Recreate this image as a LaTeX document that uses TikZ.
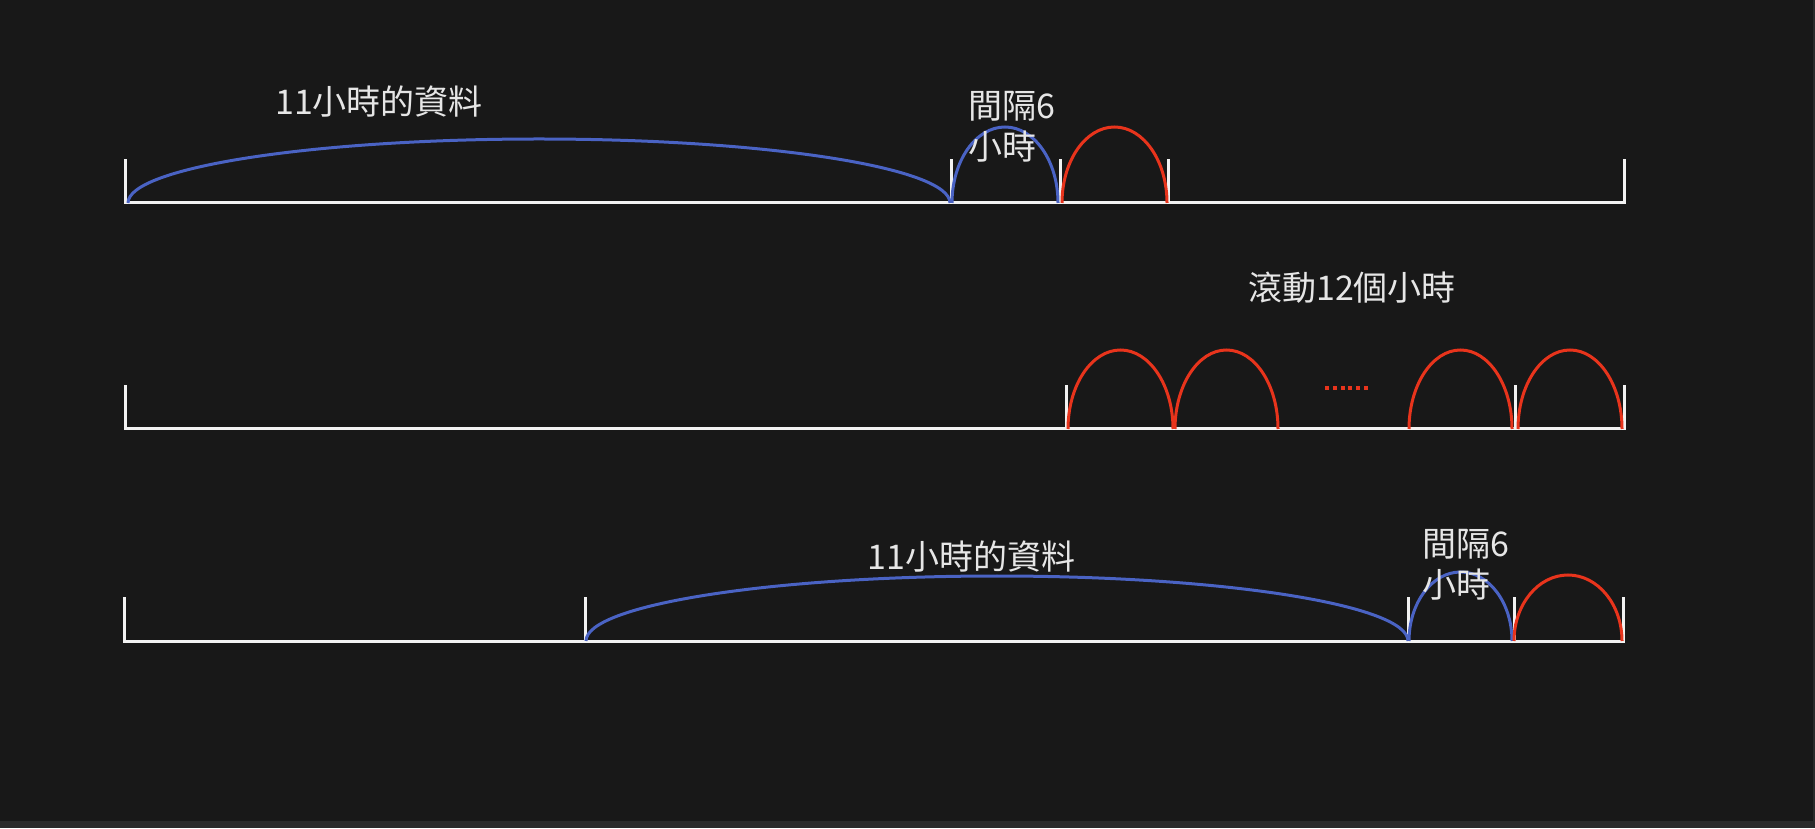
\documentclass[tikz,border=0pt]{standalone}
\usepackage{fontspec}
\setmainfont{Noto Sans CJK TC}
\usetikzlibrary{calc}
\definecolor{Board}{HTML}{181818}
\definecolor{Rim}{HTML}{2A2A2A}
\definecolor{Chalk}{HTML}{F2F2F2}
\definecolor{Label}{HTML}{E6E6E6}
\definecolor{Cobalt}{HTML}{4A63C4}
\definecolor{Vermilion}{HTML}{E8341C}
\tikzset{
  axisline/.style={draw=Chalk, line width=3pt, line cap=rect},
  tickmark/.style={draw=Chalk, line width=3pt},
  hump/.style={to path={let \p1=(\tikztostart), \p2=(\tikztotarget) in
    arc[start angle=180, end angle=0, x radius={(\x2-\x1)/2}, y radius=#1pt]}},
  datahump/.style={draw=Cobalt, line width=3pt},
  nexthump/.style={draw=Vermilion, line width=3pt},
  note/.style={text=Label, font=\fontsize{34}{41}\selectfont, inner sep=0pt, align=left}
}

\begin{document}
\begin{tikzpicture}[x=1pt,y=1pt]
  \fill[Board] (0,0) rectangle (1815,828);
  \fill[Rim] (0,0) rectangle (1815,7);
  \fill[Rim] (1813,7) rectangle (1815,828);

  % first row: 11 hours of data, 6 hour gap, next hour
  \foreach \n/\x in {0/125,1/951,2/1060,3/1168,4/1624}
    \coordinate (r1t\n) at (\x,625);
  \foreach \n/\x in {0/128,1/950,2/952,3/1058,4/1062,5/1167}
    \coordinate (r1h\n) at (\x,625);
  \draw[axisline] (r1t0) -- (r1t4);
  \foreach \n in {0,...,4}
    \draw[tickmark] (r1t\n) -- ++(0,44);
  \draw[datahump] (r1h0) to[hump=64] (r1h1);
  \draw[datahump] (r1h2) to[hump=76] (r1h3);
  \draw[nexthump] (r1h4) to[hump=76] (r1h5);
  \node[note] (span1) at (379,726) {11小時的資料};
  \node[note,anchor=west] (gap1) at (968,701.5) {間隔6\\小時};

  % second row: rolling over 12 hours
  \foreach \n/\x in {0/125,1/1066,2/1515,3/1624}
    \coordinate (r2t\n) at (\x,399);
  \foreach \n/\x in {0/1068,1/1173,2/1175,3/1278,4/1409,5/1512,6/1518,7/1622}
    \coordinate (r2h\n) at (\x,399);
  \draw[axisline] (r2t0) -- (r2t3);
  \foreach \n in {0,...,3}
    \draw[tickmark] (r2t\n) -- ++(0,44);
  \draw[nexthump] (r2h0) to[hump=79] (r2h1);
  \draw[nexthump] (r2h2) to[hump=79] (r2h3);
  \draw[nexthump] (r2h4) to[hump=79] (r2h5);
  \draw[nexthump] (r2h6) to[hump=79] (r2h7);
  \foreach \k in {0,...,5}
    \fill[Vermilion] (1325+7.8*\k,438) rectangle ++(4,4);
  \node[note] (roll) at (1352,540.5) {滾動12個小時};

  % third row: window moved to the end
  \foreach \n/\x in {0/124,1/585,2/1408,3/1514,4/1623}
    \coordinate (r3t\n) at (\x,187);
  \foreach \n/\x in {0/586,1/1408,2/1409,3/1512,4/1514,5/1622}
    \coordinate (r3h\n) at (\x,187);
  \draw[axisline] (r3t0) -- (r3t4);
  \foreach \n in {0,...,4}
    \draw[tickmark] (r3t\n) -- ++(0,44);
  \draw[datahump] (r3h0) to[hump=65] (r3h1);
  \draw[datahump] (r3h2) to[hump=69] (r3h3);
  \draw[nexthump] (r3h4) to[hump=66] (r3h5);
  \node[note] (span3) at (971.5,271) {11小時的資料};
  \node[note,anchor=west] (gap3) at (1422,263) {間隔6\\小時};
\end{tikzpicture}
\end{document}
